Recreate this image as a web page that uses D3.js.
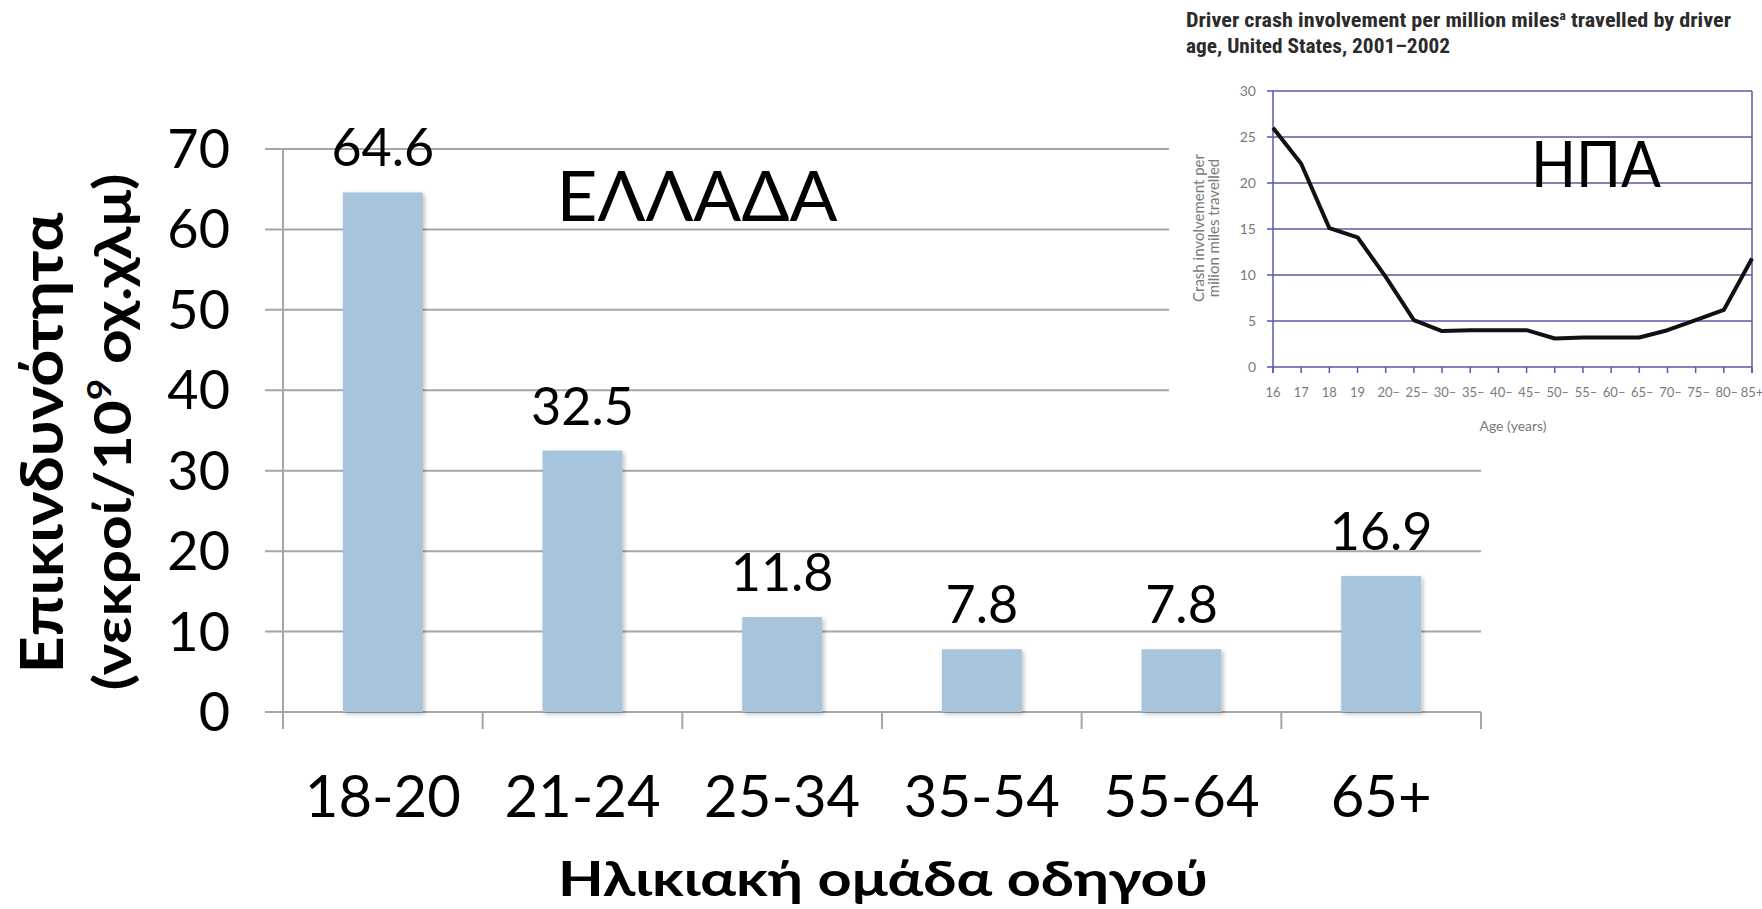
<!DOCTYPE html>
<html>
<head>
<meta charset="utf-8">
<script src="https://cdn.jsdelivr.net/npm/d3@7"></script>
<style>
  html, body { margin: 0; padding: 0; background: #fff; }
  svg { display: block; }
</style>
</head>
<body>
<svg id="chart" width="1762" height="909"></svg>
<script>
// ---- Main chart data (Greece) ----
const categories = ["18-20", "21-24", "25-34", "35-54", "55-64", "65+"];
const values = [64.6, 32.5, 11.8, 7.8, 7.8, 16.9];
const yTicks = [0, 10, 20, 30, 40, 50, 60, 70];
const yTitleLine1 = "Επικινδυνότητα";
const xTitle = "Ηλικιακή ομάδα οδηγού";
const mainLabel = "ΕΛΛΑΔΑ";

// ---- Inset chart data (USA) ----
const usAges = ["16", "17", "18", "19", "20–", "25–", "30–", "35–", "40–", "45–", "50–", "55–", "60–", "65–", "70–", "75–", "80–", "85+"];
const usValues = [26.0, 22.1, 15.1, 14.1, 9.8, 5.1, 3.9, 4.0, 4.0, 4.0, 3.1, 3.2, 3.2, 3.2, 4.0, 5.1, 6.2, 11.8];
const usYTicks = [0, 5, 10, 15, 20, 25, 30];
const usTitle = ["Driver crash involvement per million miles", "age, United States, 2001–2002"];
const usYTitle = ["Crash involvement per", "milion miles travelled"];
const usXTitle = "Age (years)";
const usLabel = "ΗΠΑ";

const svg = d3.select("#chart");
const FONT = "Lato, 'Open Sans', sans-serif";
const NARROW = "'Liberation Sans Narrow', 'Roboto Condensed', 'Open Sans', sans-serif";
const grid = "#a6a6a6";

// shadow filter for bars
const defs = svg.append("defs");
const f = defs.append("filter").attr("id", "shadow").attr("x", "-10%").attr("y", "-10%").attr("width", "130%").attr("height", "130%");
f.append("feDropShadow").attr("dx", 2).attr("dy", 2).attr("stdDeviation", 2).attr("flood-color", "#000").attr("flood-opacity", 0.25);

// ---- main scales ----
const x = d3.scaleBand().domain(categories).range([283, 1481]).paddingInner(0.6).paddingOuter(0.3);
const y = d3.scaleLinear().domain([0, 70]).range([712, 149]);
const step = x.step();
const x0 = 283, x1 = 1481;

// gridlines
svg.append("g").selectAll("line").data(yTicks).join("line")
  .attr("x1", x0 - 18).attr("x2", x1)
  .attr("y1", d => y(d)).attr("y2", d => y(d))
  .attr("stroke", grid).attr("stroke-width", 2);

// y axis line
svg.append("line").attr("x1", x0).attr("x2", x0).attr("y1", y(70)).attr("y2", y(0) + 17)
  .attr("stroke", grid).attr("stroke-width", 2);

// category boundary ticks
const bounds = d3.range(categories.length + 1).map(i => x0 + i * step);
svg.append("g").selectAll("line").data(bounds).join("line")
  .attr("x1", d => d).attr("x2", d => d).attr("y1", y(0)).attr("y2", y(0) + 17)
  .attr("stroke", grid).attr("stroke-width", 2);

// y tick labels
svg.append("g").selectAll("text").data(yTicks).join("text")
  .attr("x", 230).attr("y", d => y(d) + 19)
  .attr("text-anchor", "end")
  .attr("font-family", FONT).attr("font-size", 54).attr("fill", "#000")
  .text(d => d);

// bars
svg.append("g").selectAll("rect").data(values).join("rect")
  .attr("x", (d, i) => x(categories[i]))
  .attr("width", x.bandwidth())
  .attr("y", d => y(d))
  .attr("height", d => y(0) - y(d))
  .attr("fill", "#a6c4dc")
  .attr("filter", "url(#shadow)");

// value labels
svg.append("g").selectAll("text").data(values).join("text")
  .attr("x", (d, i) => x(categories[i]) + x.bandwidth() / 2)
  .attr("y", d => y(d) - 26)
  .attr("text-anchor", "middle")
  .attr("font-family", FONT).attr("font-size", 52).attr("fill", "#000")
  .text(d => d.toFixed(1));

// x tick labels
svg.append("g").selectAll("text").data(categories).join("text")
  .attr("x", d => x(d) + x.bandwidth() / 2)
  .attr("y", 817)
  .attr("text-anchor", "middle")
  .attr("font-family", FONT).attr("font-size", 58).attr("fill", "#000")
  .text(d => d);

// x title
svg.append("text")
  .attr("x", 558).attr("y", 896)
  .attr("textLength", 650).attr("lengthAdjust", "spacingAndGlyphs")
  .attr("font-family", FONT).attr("font-weight", "bold").attr("font-size", 48).attr("fill", "#000")
  .text(xTitle);

// y title (two rotated lines)
svg.append("text")
  .attr("transform", "translate(63,443) rotate(-90)")
  .attr("text-anchor", "middle")
  .attr("textLength", 461).attr("lengthAdjust", "spacingAndGlyphs")
  .attr("font-family", FONT).attr("font-weight", "bold").attr("font-size", 60).attr("fill", "#000")
  .text(yTitleLine1);

const yt2 = svg.append("text")
  .attr("transform", "translate(131,432) rotate(-90)")
  .attr("text-anchor", "middle")
  .attr("textLength", 517).attr("lengthAdjust", "spacingAndGlyphs")
  .attr("font-family", FONT).attr("font-weight", "bold").attr("font-size", 52).attr("fill", "#000");
yt2.append("tspan").text("(νεκροί/10");
yt2.append("tspan").attr("dy", -20).attr("font-size", 32).text("9");
yt2.append("tspan").attr("dy", 20).text(" οχ.χλμ)");

// ΕΛΛΑΔΑ label
svg.append("text")
  .attr("x", 697).attr("y", 221).attr("text-anchor", "middle")
  .attr("textLength", 281).attr("lengthAdjust", "spacingAndGlyphs")
  .attr("font-family", FONT).attr("font-size", 70).attr("fill", "#000")
  .text(mainLabel);

// ================= Inset (USA) =================
svg.append("rect").attr("x", 1169).attr("y", 0).attr("width", 593).attr("height", 442).attr("fill", "#fff");

const navy = "#5a5aa6";
const grey = "#7a7a7a";
const xi = d3.scalePoint().domain(usAges).range([1273, 1752]);
const yi = d3.scaleLinear().domain([0, 30]).range([367, 91]);

// title
svg.append("text").attr("x", 1186).attr("y", 27)
  .attr("textLength", 545).attr("lengthAdjust", "spacingAndGlyphs")
  .attr("font-family", NARROW).attr("font-weight", "bold").attr("font-size", 20).attr("fill", "#2b2b2b")
  .call(t => {
    t.append("tspan").text("Driver crash involvement per million miles");
    t.append("tspan").attr("dy", -7).attr("font-size", 12).text("a");
    t.append("tspan").attr("dy", 7).text(" travelled by driver");
  });
svg.append("text").attr("x", 1186).attr("y", 53)
  .attr("textLength", 264).attr("lengthAdjust", "spacingAndGlyphs")
  .attr("font-family", NARROW).attr("font-weight", "bold").attr("font-size", 20).attr("fill", "#2b2b2b")
  .text(usTitle[1]);

// gridlines
svg.append("g").selectAll("line").data(usYTicks).join("line")
  .attr("x1", 1267).attr("x2", 1752)
  .attr("y1", d => yi(d)).attr("y2", d => yi(d))
  .attr("stroke", navy).attr("stroke-width", 1.5);
// left and right borders
svg.append("line").attr("x1", 1273).attr("x2", 1273).attr("y1", yi(30)).attr("y2", yi(0) + 6)
  .attr("stroke", navy).attr("stroke-width", 1.5);
svg.append("line").attr("x1", 1752).attr("x2", 1752).attr("y1", yi(30)).attr("y2", yi(0) + 6)
  .attr("stroke", navy).attr("stroke-width", 1.5);
// x ticks
svg.append("g").selectAll("line").data(usAges).join("line")
  .attr("x1", d => xi(d)).attr("x2", d => xi(d)).attr("y1", yi(0)).attr("y2", yi(0) + 6)
  .attr("stroke", navy).attr("stroke-width", 1.5);

// y tick labels
svg.append("g").selectAll("text").data(usYTicks).join("text")
  .attr("x", 1256).attr("y", d => yi(d) + 5)
  .attr("text-anchor", "end")
  .attr("font-family", FONT).attr("font-size", 14).attr("fill", grey)
  .text(d => d);
// x tick labels
svg.append("g").selectAll("text").data(usAges).join("text")
  .attr("x", d => xi(d) + (d.endsWith("–") ? 3 : 0)).attr("y", 397)
  .attr("text-anchor", "middle")
  .attr("font-family", FONT).attr("font-size", 13).attr("fill", grey)
  .text(d => d);
// axis titles
svg.append("text").attr("x", 1513).attr("y", 431).attr("text-anchor", "middle")
  .attr("font-family", FONT).attr("font-size", 14).attr("fill", grey).text(usXTitle);
svg.append("g").selectAll("text").data(usYTitle).join("text")
  .attr("transform", (d, i) => `translate(${1204 + i * 15},228) rotate(-90)`)
  .attr("text-anchor", "middle")
  .attr("font-family", FONT).attr("font-size", 15).attr("fill", grey)
  .text(d => d);

// line
const line = d3.line().x((d, i) => xi(usAges[i])).y(d => yi(d));
svg.append("path").datum(usValues).attr("d", line)
  .attr("fill", "none").attr("stroke", "#111").attr("stroke-width", 4).attr("stroke-linejoin", "round");

// ΗΠΑ label
svg.append("text").attr("x", 1596).attr("y", 187).attr("text-anchor", "middle")
  .attr("textLength", 130).attr("lengthAdjust", "spacingAndGlyphs")
  .attr("font-family", FONT).attr("font-size", 64).attr("fill", "#000")
  .text(usLabel);
</script>
</body>
</html>
